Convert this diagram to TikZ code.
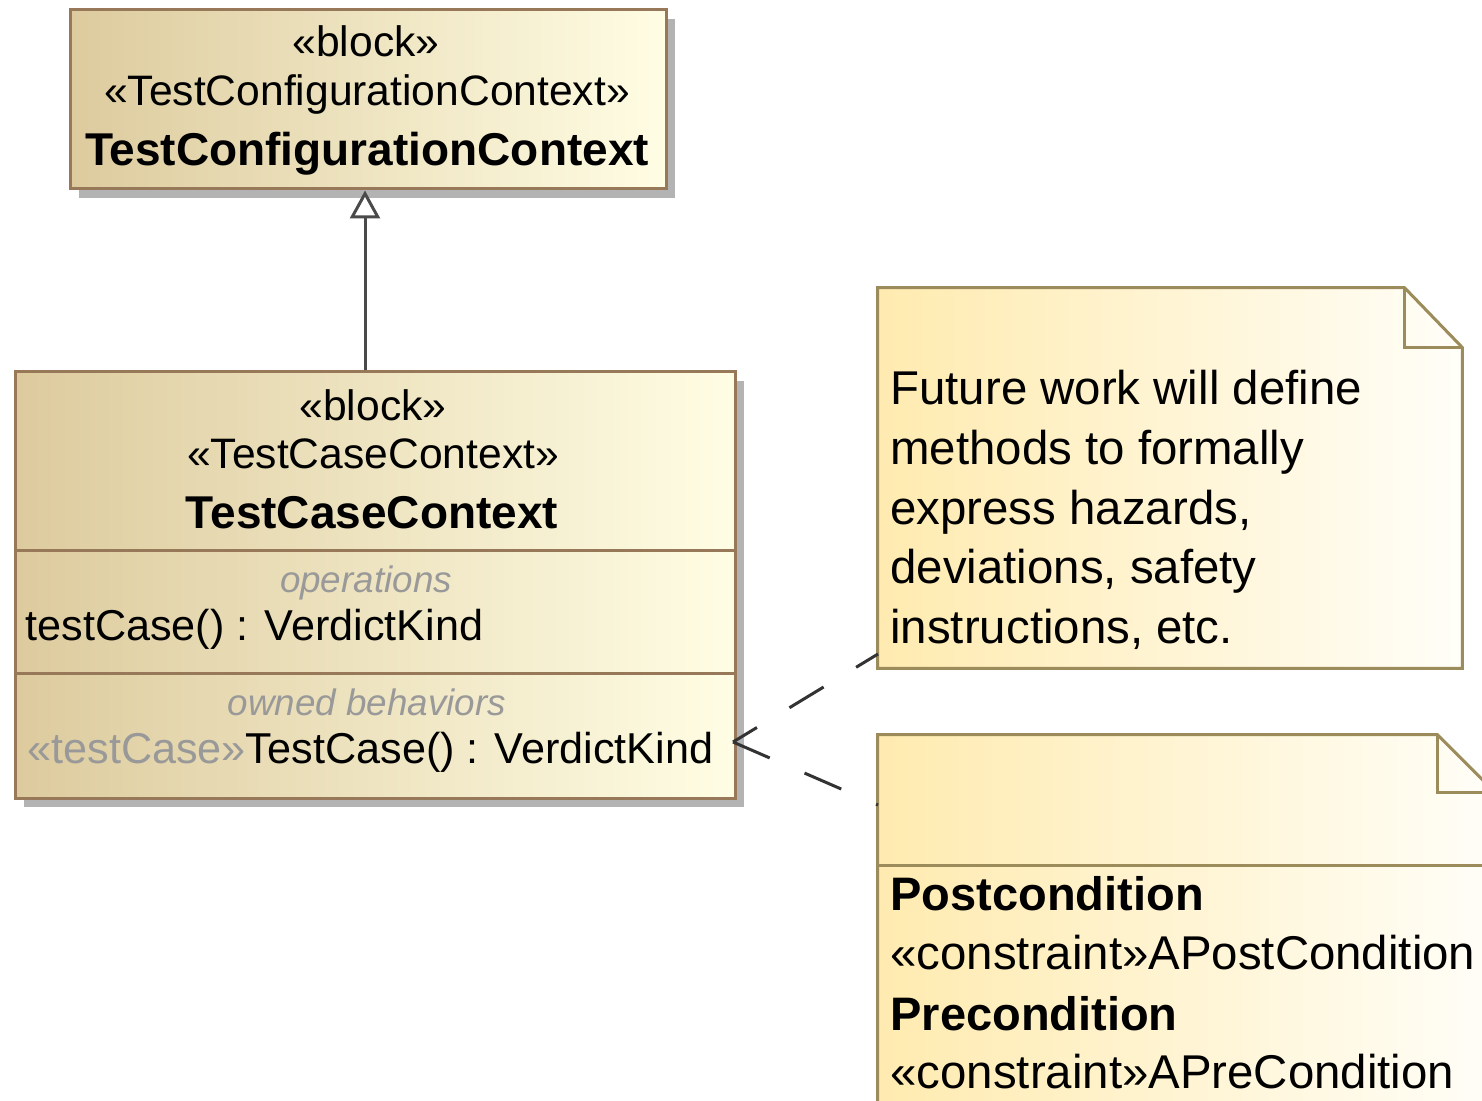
\documentclass[tikz,border=0pt]{standalone}
\usepackage{fontspec}
\setmainfont{Liberation Sans}
\usetikzlibrary{arrows.meta}
\definecolor{blkA}{HTML}{DDCB9E}
\definecolor{blkB}{HTML}{FFFDE4}
\definecolor{blkLine}{HTML}{977959}
\definecolor{noteA}{HTML}{FFEBB0}
\definecolor{noteB}{HTML}{FFFEF8}
\definecolor{noteLine}{HTML}{9C8B5B}
\definecolor{shadowC}{HTML}{B3B3B3}
\definecolor{connC}{HTML}{333333}
\definecolor{genC}{HTML}{4A4A4A}
\definecolor{grayTxt}{HTML}{999999}
\begin{document}
\begin{tikzpicture}[x=0.5pt,y=-0.5pt,
  blockbox/.style={rectangle, inner sep=0pt, draw=blkLine, line width=1.5pt,
    left color=blkA, right color=blkB},
  notebox/.style={rectangle, inner sep=0pt, draw=none},
  notefill/.style={draw=noteLine, line width=1.5pt, line join=miter,
    left color=noteA, right color=noteB},
  shadowfill/.style={fill=shadowC},
  stereo/.style={inner sep=0pt, anchor=base, font=\fontsize{21.3}{25}\selectfont},
  bname/.style={inner sep=0pt, anchor=base, font=\fontsize{23}{27}\selectfont\bfseries},
  comptitle/.style={inner sep=0pt, anchor=base, text=grayTxt, font=\fontsize{18.4}{22}\selectfont\itshape},
  member/.style={inner sep=0pt, anchor=base west, font=\fontsize{21.6}{25}\selectfont},
  notetxt/.style={inner sep=0pt, anchor=base west, font=\fontsize{23.7}{28}\selectfont},
  notebold/.style={inner sep=0pt, anchor=base west, font=\fontsize{23.5}{28}\selectfont\bfseries},
  sepline/.style={draw=blkLine, line width=1.5pt},
  nsepline/.style={draw=noteLine, line width=1.5pt},
  genline/.style={draw=genC, line width=1.5pt, -{Triangle[open, fill=white, length=14pt, width=15pt]}},
  connline/.style={draw=connC, line width=1.5pt, dash pattern=on 20pt off 19pt}
]
\useasboundingbox (0,0) rectangle (1482,1101);

% ---------- top block ----------
\fill[shadowfill] (79,19) rectangle (675,198);
\node[blockbox, minimum width=298pt, minimum height=89.5pt] (tcc) at (368,99.5) {};
\node[stereo] (tccs1) at (366,57) {«block»};
\node[stereo] (tccs2) at (367,106) {«TestConfigurationContext»};
\node[bname] (tccn) at (367,166) {TestConfigurationContext};

% ---------- bottom block ----------
\fill[shadowfill] (24,381) rectangle (744,807);
\node[blockbox, minimum width=360pt, minimum height=213pt] (tcx) at (375,585) {};
\draw[sepline] (tcx.west |- 0,550) -- (tcx.east |- 0,550);
\draw[sepline] (tcx.west |- 0,673) -- (tcx.east |- 0,673);
\node[stereo] (tcxs1) at (373,421) {«block»};
\node[stereo] (tcxs2) at (373,468) {«TestCaseContext»};
\node[bname] (tcxn) at (372,528) {TestCaseContext};
\node[comptitle] (ops) at (366,592) {operations};
\node[member] (op1) at (25,640) {testCase() : VerdictKind};
\node[comptitle] (obh) at (367,715) {owned behaviors};
\node[member] (ob1) at (27,763) {\textcolor{grayTxt}{«testCase»}TestCase() : VerdictKind};

% ---------- generalization ----------
\coordinate (genx) at (365,0);
\draw[genline] (genx |- tcx.north) -- (genx |- tcc.south);

% ---------- note 1 ----------
\node[notebox, minimum width=292pt, minimum height=190pt] (n1) at (1170,478) {};
\fill[shadowfill, shift={(9,9)}] (n1.north west) -- ([xshift=-29pt]n1.north east)
  -- ([yshift=-30pt]n1.north east) -- (n1.south east) -- (n1.south west) -- cycle;
\path[notefill] (n1.north west) -- ([xshift=-29pt]n1.north east)
  -- ([yshift=-30pt]n1.north east) -- (n1.south east) -- (n1.south west) -- cycle;
\draw[nsepline] ([xshift=-29pt]n1.north east) |- ([yshift=-30pt]n1.north east);
\node[notetxt] (n1l1) at (890,405) {Future work will define};
\node[notetxt] (n1l2) at (890,464) {methods to formally};
\node[notetxt] (n1l3) at (890,524) {express hazards,};
\node[notetxt] (n1l4) at (890,583) {deviations, safety};
\node[notetxt] (n1l5) at (890,643) {instructions, etc.};

% ---------- note 2 ----------
\node[notebox, minimum width=308.5pt, minimum height=232.5pt] (n2) at (1186.5,967.5) {};
\fill[shadowfill, shift={(9,9)}] (n2.north west) -- ([xshift=-29pt]n2.north east)
  -- ([yshift=-29pt]n2.north east) -- (n2.south east) -- (n2.south west) -- cycle;
\path[notefill] (n2.north west) -- ([xshift=-29pt]n2.north east)
  -- ([yshift=-29pt]n2.north east) -- (n2.south east) -- (n2.south west) -- cycle;
\draw[nsepline] ([xshift=-29pt]n2.north east) |- ([yshift=-29pt]n2.north east);
\draw[nsepline] (n2.west |- 0,865) -- (n2.east |- 0,865);
\node[notebold] (n2l1) at (890,910) {Postcondition};
\node[notetxt] (n2l2) at (890,969) {«constraint»APostCondition};
\node[notebold] (n2l3) at (890,1030) {Precondition};
\node[notetxt] (n2l4) at (890,1088) {«constraint»APreCondition};

% ---------- dashed anchors ----------
\coordinate (obend) at (733,742);
\coordinate (n1att) at (878,654);
\coordinate (n2att) at (878,805);
\draw[connline, dash phase=6pt] (obend) -- (n1att);
\draw[connline] (obend) -- (n2att);
\end{tikzpicture}
\end{document}
